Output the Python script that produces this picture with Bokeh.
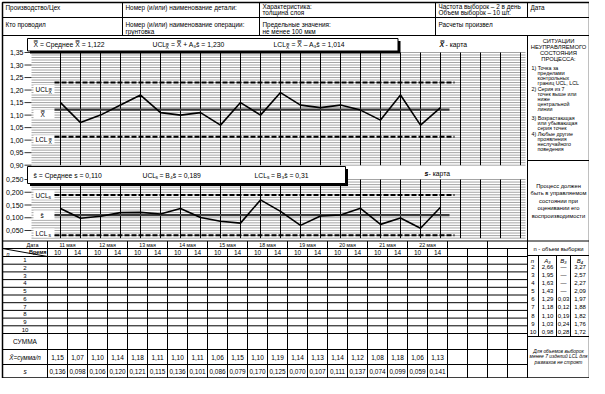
from bokeh.plotting import figure
from bokeh.models import Range1d
from bokeh.core.properties import value
from bokeh.embed import file_html
from bokeh.resources import INLINE

# ---------------- data ----------------
dates = ["11 мая", "12 мая", "13 мая", "14 мая", "15 мая",
         "18 мая", "19 мая", "20 мая", "21 мая", "22 мая"]
times = ["10", "14"]
xbar = [1.15, 1.07, 1.10, 1.14, 1.18, 1.11, 1.10, 1.11, 1.06, 1.15,
        1.10, 1.19, 1.14, 1.13, 1.14, 1.12, 1.08, 1.18, 1.06, 1.13]
s_vals = [0.136, 0.098, 0.106, 0.120, 0.121, 0.115, 0.136, 0.101, 0.086, 0.079,
          0.170, 0.125, 0.070, 0.107, 0.111, 0.137, 0.074, 0.099, 0.059, 0.141]
xbar_mean, ucl_x, lcl_x = 1.122, 1.230, 1.014
s_mean, ucl_s, lcl_s = 0.110, 0.189, 0.031
xbar_ticks = [1.35, 1.30, 1.25, 1.20, 1.15, 1.10, 1.05, 1.00, 0.95, 0.90]
s_ticks = [0.250, 0.200, 0.150, 0.100, 0.050]
n_sizes = [2, 3, 4, 5, 6, 7, 8, 9, 10]
a3 = ["2,66", "1,95", "1,63", "1,43", "1,29", "1,18", "1,10", "1,03", "0,98"]
b3 = ["—", "—", "—", "—", "0,03", "0,12", "0,19", "0,24", "0,28"]
b4 = ["3,27", "2,57", "2,27", "2,09", "1,97", "1,88", "1,82", "1,76", "1,72"]
n_columns = 24
sample_rows = [str(k) for k in range(1, 11)]

FONT = value("Liberation Sans")
XBB = "X\u033F"   # X double bar
SB = "s\u0304"    # s bar

# ---------------- layout (page pixels) ----------------
W, H = 589, 378
L, R, T, B = 10, 597, 10, 385.5
COL0, COLW = 55, 20
PANEL = COL0 + COLW * n_columns      # 535
XB_Y0, XB_K = 60.0, 250.4           # page y of 1.35, px per unit
S_Y0, S_K = 187.0, 255.0            # page y of 0.250, px per unit
PT0, PTW = 68.0, 20.0               # page x of first sample point

p = figure(width=W, height=H, x_range=Range1d(8, 8 + W), y_range=Range1d(8 + H, 8),
           output_backend="svg", toolbar_location=None, min_border=0,
           x_axis_location=None, y_axis_location=None, background_fill_color="white")
p.grid.visible = False
p.outline_line_color = None

p.extra_y_ranges = {
    "xb": Range1d(1.35 - (8 + H - XB_Y0) / XB_K, 1.35 + (XB_Y0 - 8) / XB_K),
    "s": Range1d(0.25 - (8 + H - S_Y0) / S_K, 0.25 + (S_Y0 - 8) / S_K),
}
p.extra_x_ranges = {"idx": Range1d((8 - PT0) / PTW, (8 + W - PT0) / PTW)}


def segs(lst, color="black", width=1.0, dash="solid"):
    p.segment(x0=[a[0] for a in lst], y0=[a[1] for a in lst],
              x1=[a[2] for a in lst], y1=[a[3] for a in lst],
              line_color=color, line_width=width, line_dash=dash)


def txt(x, y, s, size=7, align="left", style="normal", baseline="middle", **kw):
    if not isinstance(x, list):
        x, y, s = [x], [y], [s]
    p.text(x=x, y=y, text=s, text_font=FONT, text_font_size=f"{size}px",
           text_align=align, text_baseline=baseline, text_font_style=style,
           text_color="black", **kw)


# ---------------- chart grids ----------------
xb_grid = [round(0.90 + 0.01 * k, 2) for k in range(46)]
s_grid = [round(0.02 + 0.01 * k, 2) for k in range(24)]
p.segment(x0=[39] * len(xb_grid), x1=[533] * len(xb_grid), y0=xb_grid, y1=xb_grid,
          y_range_name="xb", line_color="#666666", line_width=0.6)
p.segment(x0=[39] * len(s_grid), x1=[533] * len(s_grid), y0=s_grid, y1=s_grid,
          y_range_name="s", line_color="#666666", line_width=0.6)
cols = list(range(n_columns))
p.segment(x0=cols, x1=cols, y0=[1.35] * n_columns, y1=[0.90] * n_columns,
          x_range_name="idx", y_range_name="xb", line_color="black", line_width=1)
p.segment(x0=cols, x1=cols, y0=[0.25] * n_columns, y1=[0.02] * n_columns,
          x_range_name="idx", y_range_name="s", line_color="black", line_width=1)

# tick marks and labels
p.segment(x0=[32] * len(xbar_ticks), x1=[39] * len(xbar_ticks), y0=xbar_ticks, y1=xbar_ticks,
          y_range_name="xb", line_color="black", line_width=0.8)
txt([31] * len(xbar_ticks), xbar_ticks, [f"{v:.2f}".replace(".", ",") for v in xbar_ticks],
    size=7, align="right", y_range_name="xb")
p.segment(x0=[32] * len(s_ticks), x1=[39] * len(s_ticks), y0=s_ticks, y1=s_ticks,
          y_range_name="s", line_color="black", line_width=0.8)
txt([31] * len(s_ticks), s_ticks, [f"{v:.3f}".replace(".", ",") for v in s_ticks],
    size=7, align="right", y_range_name="s")

# label boxes
lab_y = [97, 121.7, 147.3, 202.5, 222.5, 240.5]
p.quad(left=[41] * 6, right=[62] * 6, top=[y - 4.5 for y in lab_y], bottom=[y + 4.5 for y in lab_y],
       fill_color="white", line_color=None)
txt(43, 97, "UCL", size=6.5)
txt(56, 99, XBB, size=5)
txt(48, 121.7, XBB, size=6.5)
txt(43, 147.3, "LCL", size=6.5)
txt(56, 149.3, XBB, size=5)
txt(43, 202.5, "UCL", size=6.5)
txt(56, 204.5, "s", size=5)
txt(48, 222.5, SB, size=6.5)
txt(43, 240.5, "LCL", size=6.5)
txt(56, 242.5, "s", size=5)

# limit / centre lines
lx = [-0.3, 19.7]
p.line(lx, [ucl_x] * 2, x_range_name="idx", y_range_name="xb", line_color="black", line_width=2, line_dash="5 2")
p.line(lx, [lcl_x] * 2, x_range_name="idx", y_range_name="xb", line_color="black", line_width=2, line_dash="5 2")
p.line([-0.3, 19.45], [xbar_mean] * 2, x_range_name="idx", y_range_name="xb", line_color="#3a3a3a", line_width=2.2)
p.line(lx, [ucl_s] * 2, x_range_name="idx", y_range_name="s", line_color="black", line_width=2, line_dash="5 2")
p.line(lx, [lcl_s] * 2, x_range_name="idx", y_range_name="s", line_color="black", line_width=2, line_dash="5 2")
p.line([-0.3, 19.45], [s_mean] * 2, x_range_name="idx", y_range_name="s", line_color="#3a3a3a", line_width=2.2)

# data lines
idx = list(range(len(xbar)))
p.line(idx, xbar, x_range_name="idx", y_range_name="xb", line_color="black", line_width=1.6)
p.line(idx, s_vals, x_range_name="idx", y_range_name="s", line_color="black", line_width=1.6)

# banners with shadow
p.quad(left=[37.5, 37.5], right=[408, 355.5], top=[48.5, 176.5], bottom=[61, 193.5],
       fill_color="black", line_color=None)
p.quad(left=[35, 35], right=[405.5, 353], top=[46, 174], bottom=[58.5, 191],
       fill_color="white", line_color="black", line_width=1)
by = 52.3
txt(41, by, f"{XBB} = Среднее  {XBB} = 1,122", size=6.8)
txt(160, by, "UCL", size=6.8); txt(173, by + 1.8, XBB, size=5)
txt(178.5, by, f"= {XBB} + A\u2083{SB} = 1,230", size=6.8)
txt(281, by, "LCL", size=6.8); txt(293.5, by + 1.8, XBB, size=5)
txt(299, by, f"= {XBB} \u2013 A\u2083{SB} = 1,014", size=6.8)
sy = 182.5
txt(41, sy, f"{SB} = Среднее  s = 0,110", size=6.8)
txt(150, sy, "UCL", size=6.8); txt(163, sy + 1.8, "s", size=5)
txt(167, sy, f"= B\u2084{SB} = 0,189", size=6.8)
txt(262, sy, "LCL", size=6.8); txt(274.5, sy + 1.8, "s", size=5)
txt(278.5, sy, f"= B\u2083{SB} = 0,31", size=6.8)
txt(447, 52.3, XBB, size=7, style="bold italic")
txt(453, 52.3, " - карта", size=6.8)
txt(432, 181, "s", size=7, style="bold italic")
txt(436, 181, " - карта", size=6.8)

# ---------------- form lines ----------------
form = [
    (L, 25, R, 25), (L, 43, R, 43),
    (130, T, 130, 43), (267, T, 267, 43), (443, T, 443, 43), (PANEL, T, PANEL, 25),
    (PANEL, 43, PANEL, B), (PANEL, 168, R, 168),
    (L, 248.5, R, 248.5),
    (L, 256, PANEL, 256), (L, 256, COL0, 264),
    (COL0, 248.5, COL0, B),
    (PANEL, 263, R, 263), (PANEL, 344, R, 344),
    (546, 263, 546, 344), (564, 263, 564, 344), (578, 263, 578, 344),
]
ROW0, ROWH = 264.0, 7.7
row_lines = [ROW0 + ROWH * k for k in range(11)] + [357.0, 372.0]
for y in row_lines:
    form.append((L, y, PANEL, y))
for j in range(1, n_columns):
    x = COL0 + COLW * j
    form.append((x, 248.5 if j % 2 == 0 else 256, x, B))
segs(form, width=1)
p.quad(left=[L], right=[R], top=[T], bottom=[B], fill_color=None, line_color="black", line_width=1.5)

# ---------------- header texts ----------------
HS = 6.4
txt(13, 14.5, "Производство/Цех", size=HS)
txt(133, 14.5, "Номер (и/или) наименование детали:", size=HS)
txt(270, 13.5, "Характеристика:", size=HS); txt(270, 20, "толщина слоя", size=HS)
txt(446, 13.5, "Частота выборок – 2 в день", size=HS); txt(446, 20, "Объем выборок – 10 шт.", size=HS)
txt(538, 14.5, "Дата", size=HS)
txt(13, 32, "Кто проводил", size=HS)
txt(133, 32, "Номер (и/или) наименование операции:", size=HS); txt(133, 38.5, "грунтовка", size=HS)
txt(270, 32, "Предельные значения:", size=HS); txt(270, 38.5, "не менее 100 мкм", size=HS)
txt(446, 32, "Расчеты произвел", size=HS)

# ---------------- right panel texts ----------------
PC = (PANEL + R) / 2
for s_, y in zip(["СИТУАЦИИ", "НЕУПРАВЛЯЕМОГО", "СОСТОЯНИЯ", "ПРОЦЕССА:"], [48.5, 54.5, 60.5, 66.5]):
    txt(PC, y, s_, size=5.8, align="center")
items = [
    (75, ["1) Точка за", "пределами", "контрольных", "границ UCL, LCL"]),
    (96.5, ["2) Серия из 7", "точек выше или", "ниже", "центральной", "линии"]),
    (125, ["3) Возрастающая", "или убывающая", "серия точек"]),
    (141.5, ["4) Любые другие", "проявления", "неслучайного", "поведения"]),
]
for y0, lines in items:
    for k, s_ in enumerate(lines):
        txt(539 if k == 0 else 545, y0 + 5 * k, s_, size=5.3)
for k, s_ in enumerate(["Процесс должен", "быть в управляемом", "состоянии при",
                        "оценивании его", "воспроизводимости"]):
    txt(PC, 193 + 7.6 * k, s_, size=5.8, align="center")
txt(PC, 256, "n - объем выборки", size=5.8, align="center")
txt([540, 555, 571, 587.5], [268] * 4, ["n", "A\u2083", "B\u2083", "B\u2084"], size=6, align="center",
    style="italic")
ny = [274.7 + 8.05 * k for k in range(len(n_sizes))]
txt([540.5] * 9, ny, [str(v) for v in n_sizes], size=6, align="center")
txt([555] * 9, ny, a3, size=6, align="center")
txt([571] * 9, ny, b3, size=6, align="center")
txt([587.5] * 9, ny, b4, size=6, align="center")
for k, s_ in enumerate(["Для объемов выборок", "менее 7 изделий LCL для", "размахов не строят"]):
    txt(PC, 359 + 5.3 * k, s_, size=4.9, align="center", style="italic")

# ---------------- table texts ----------------
LC = (L + COL0) / 2
txt(40, 252.2, "Дата", size=5.5, align="center")
txt(54, 259, "Время", size=5.5, align="right", style="bold")
txt(14, 261, "n", size=5.5, style="italic")
date_x = [COL0 + COLW * (2 * k + 1) for k in range(len(dates))]
txt(date_x, [252.3] * len(dates), dates, size=5.2, align="center")
tcx = [COL0 + COLW * (j + 0.5) for j in range(len(xbar))]
txt(tcx, [260.2] * len(tcx), [times[j % 2] for j in range(len(xbar))], size=6.5, align="center")
txt([LC] * 10, [ROW0 + ROWH * (k + 0.5) for k in range(10)], sample_rows, size=6, align="center")
txt(LC, 349, "СУММА", size=6.5, align="center")
txt(LC, 364.5, "X\u0304=сумма/n", size=6.3, align="center", style="italic")
txt(LC, 379, "s", size=6.5, align="center", style="italic")
txt(tcx, [364.5] * len(tcx), [f"{v:.2f}".replace(".", ",") for v in xbar], size=6.5, align="center")
txt(tcx, [379] * len(tcx), [f"{v:.3f}".replace(".", ",") for v in s_vals], size=6.4, align="center")

open("out.html", "w").write(file_html(p, INLINE))
